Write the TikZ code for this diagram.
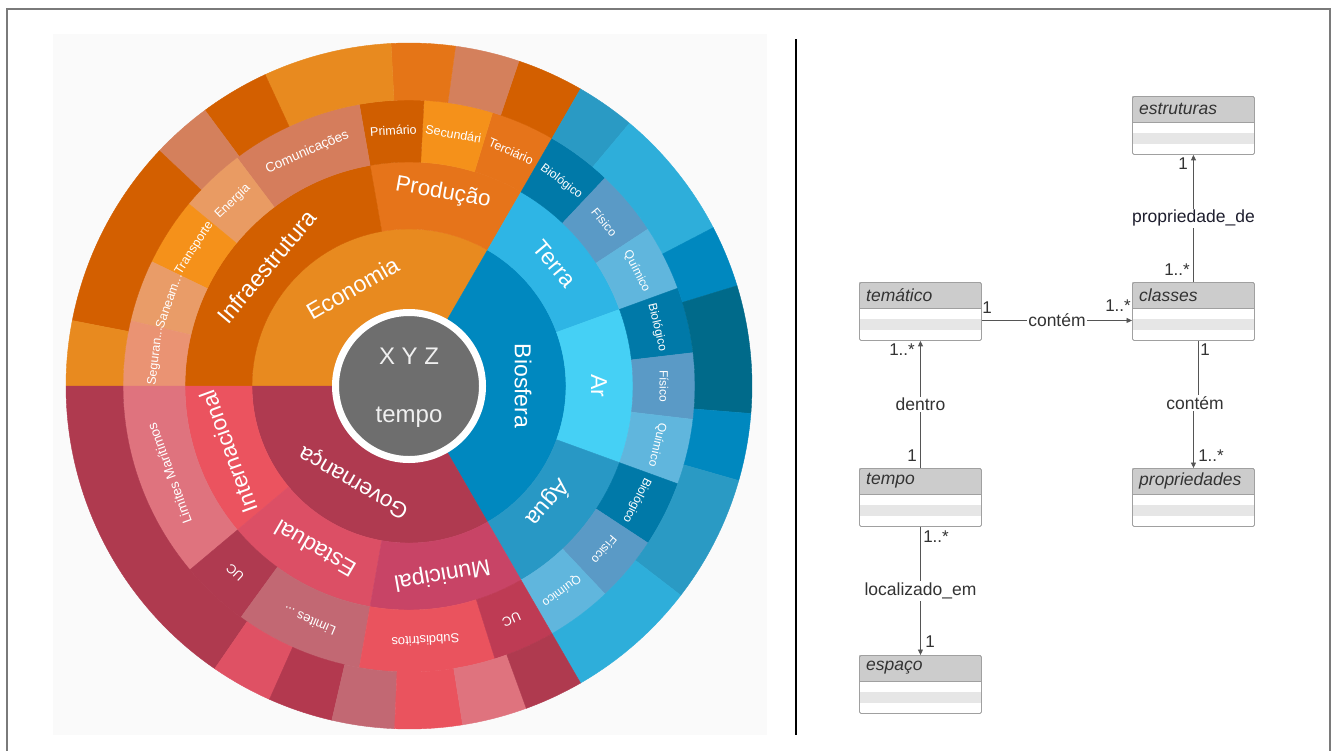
\documentclass[tikz,border=0pt]{standalone}
\usepackage{fontspec}
\setmainfont{Liberation Sans}
\usetikzlibrary{arrows.meta}

% panel and frame
\definecolor{panel}{HTML}{FAFAFA}
\definecolor{framegray}{HTML}{7A7A7A}
% economy (orange family)
\definecolor{eco}{HTML}{E88A1F}
\definecolor{infra}{HTML}{D25F00}
\definecolor{prod}{HTML}{E6741A}
\definecolor{prim}{HTML}{D05E00}
\definecolor{sec}{HTML}{F5911A}
\definecolor{terc}{HTML}{E6741A}
\definecolor{comu}{HTML}{D57D5C}
\definecolor{ener}{HTML}{E99B63}
\definecolor{transp}{HTML}{F5911A}
\definecolor{saneam}{HTML}{E99C68}
\definecolor{segur}{HTML}{EA9373}
\definecolor{oa}{HTML}{D35F00}
\definecolor{ob}{HTML}{D4805C}
\definecolor{oc}{HTML}{E57517}
% biosphere (blue family)
\definecolor{bios}{HTML}{0088BF}
\definecolor{terra}{HTML}{2EB5E5}
\definecolor{ar}{HTML}{45D0F5}
\definecolor{agua}{HTML}{2898C5}
\definecolor{bbio}{HTML}{0079A8}
\definecolor{bfis}{HTML}{5A9AC6}
\definecolor{bqui}{HTML}{60B6DD}
\definecolor{ba}{HTML}{2A9AC4}
\definecolor{bb}{HTML}{2EAEDA}
\definecolor{bc}{HTML}{0088BF}
\definecolor{bd}{HTML}{006A8A}
% governance (red family)
\definecolor{gov}{HTML}{AF3A50}
\definecolor{inter}{HTML}{EB535F}
\definecolor{est}{HTML}{DC4F65}
\definecolor{mun}{HTML}{C84466}
\definecolor{limm}{HTML}{DF737E}
\definecolor{ucr}{HTML}{AF3A50}
\definecolor{lim}{HTML}{C26873}
\definecolor{sub}{HTML}{EA535E}
\definecolor{uctwo}{HTML}{BE3B54}
\definecolor{ra}{HTML}{AF3A4F}
\definecolor{rb}{HTML}{DF5164}
\definecolor{rc}{HTML}{B3394F}
% centre
\definecolor{coregray}{HTML}{6E6E6E}
% class diagram
\definecolor{headgray}{HTML}{CCCCCC}
\definecolor{rowgray}{HTML}{E6E6E6}
\definecolor{boxgray}{HTML}{A0A0A0}
\definecolor{txtgray}{HTML}{333333}
\definecolor{linegray}{HTML}{555555}
\definecolor{navytxt}{HTML}{1E1E2E}

\tikzset{
  seglabel/.style={text=white, inner sep=0pt, anchor=center},
  umlbody/.style={draw=boxgray, line width=0.9pt, rounded corners=1.5pt,
    minimum width=122pt, minimum height=58pt, inner sep=0pt, anchor=north west},
  umltitle/.style={font=\fontsize{17.5}{18}\selectfont\itshape, text=txtgray,
    anchor=west, inner sep=0pt},
  assoc/.style={draw=linegray, line width=0.9pt},
  tipend/.style={-{Triangle[length=5.5pt,width=5pt]}},
  lbl/.style={font=\fontsize{17.5}{18}\selectfont, text=txtgray, inner sep=1.5pt, fill=white},
  mult/.style={font=\fontsize{17}{18}\selectfont, text=txtgray, inner sep=0pt},
}

% one UML class: name, left x, top y, title
\newcommand{\umlclass}[4]{%
  \fill[headgray] (#2,#3) rectangle ++(122,26);
  \fill[rowgray] (#2,#3+37) rectangle ++(122,10.5);
  \draw[boxgray, line width=0.9pt] (#2,#3+26) -- ++(122,0);
  \node[umlbody] (#1) at (#2,#3) {};
  \node[umltitle] (#1-title) at (#2+7,#3+13) {#4};
}

\begin{document}
\begin{tikzpicture}[x=1pt,y=-1pt]
\useasboundingbox (0,0) rectangle (1337,750);
\fill[white] (0,0) rectangle (1337,750);
\fill[panel] (53,34) rectangle (767,735);
\draw[framegray, line width=1.8pt] (7,9) rectangle (1330,770);
\draw[black, line width=2.3pt] (796,39) -- (796,735);

% ---------------- sunburst ----------------
\begin{scope}[shift={(409,386)}, y=1pt]
\foreach \ra/\rb/\aa/\ab/\col in {
  70/157/60/180/eco, 70/157/-60/60/bios, 70/157/180/300/gov,
  157/224/60/100/prod, 157/224/100/180/infra,
  157/224/20/60/terra, 157/224/-20/20/ar, 157/224/-60/-20/agua,
  157/224/180/220/inter, 157/224/220/260/est, 157/224/260/300/mun,
  224/286/60/73/terc, 224/286/73/87/sec, 224/286/87/100/prim,
  224/286/100/127/comu, 224/286/127/140.4/ener, 224/286/140.4/154.2/transp,
  224/286/154.2/166.8/saneam, 224/286/166.8/180/segur,
  224/286/46.7/60/bbio, 224/286/33.3/46.7/bfis, 224/286/20/33.3/bqui,
  224/286/6.7/20/bbio, 224/286/-6.7/6.7/bfis, 224/286/-20/-6.7/bqui,
  224/286/-33.3/-20/bbio, 224/286/-46.7/-33.3/bfis, 224/286/-60/-46.7/bqui,
  224/286/180/220/limm, 224/286/220/234/ucr, 224/286/234/260/lim,
  224/286/260/287.5/sub, 224/286/287.5/300/uctwo,
  286/343/60/71.3/oa, 286/343/71.3/82.2/ob, 286/343/82.2/93/oc,
  286/343/93/114.8/eco, 286/343/114.8/126.5/oa, 286/343/126.5/136.7/ob,
  286/343/136.7/169/oa, 286/343/169/180/eco,
  286/343/50/60/ba, 286/343/27.5/50/bb, 286/343/17/27.5/bc,
  286/343/-4.6/17/bd, 286/343/-16/-4.6/bc, 286/343/-37.6/-16/ba,
  286/343/-60/-37.6/bb,
  286/343/180/235.5/ra, 286/343/235.5/246/rb, 286/343/246/257/rc,
  286/343/257/267.6/lim, 286/343/267.6/279/sub, 286/343/279/290/limm,
  286/343/290/300/ra}
{
  \fill[fill=\col, draw=\col, line width=0.4pt]
    (\aa:\ra) arc[start angle=\aa, end angle=\ab, radius=\ra]
    -- (\ab:\rb) arc[start angle=\ab, end angle=\aa, radius=\rb] -- cycle;
}

% centre disc
\node[circle, fill=coregray, draw=white, line width=7pt,
      minimum size=147pt, inner sep=0pt] (core) at (0,0) {};
\node[text=white!94!black, font=\fontsize{24}{24}\selectfont] (xyz) at (0,30) {X Y Z};
\node[text=white!94!black, font=\fontsize{24}{24}\selectfont] (tmp) at (0,-31) {tempo};

% segment labels, tops facing outward
\foreach \ang/\rad/\sz/\nm/\txt in {
  120/113/23/lEco/Economia,
  0/114/23/lBio/Biosfera,
  240/110/22.5/lGov/Governança,
  80/196/22.5/lProd/Produção,
  140/186/23.5/lInfra/Infraestrutura,
  40/190/23/lTerra/Terra,
  0/190/23/lAr/Ar,
  -40/182/23/lAgua/Água,
  200/192/22.5/lInter/Internacional,
  240/188/23/lEst/Estadual,
  280/191/23/lMun/Municipal,
  113.5/255/13.5/lCom/Comunicações,
  93.5/256/12.5/lPrim/Primário,
  80/256/12.5/lSec/Secundári,
  66.5/256/12.5/lTerc/Terciário,
  133.7/255/12.5/lEner/Energia,
  147.3/255/12.5/lTrans/Transporte,
  160.5/255/12.5/lSan/Saneam.{}.{}.,
  173.4/255/12.5/lSeg/Seguran.{}.{}.,
  53.3/255/12/lTb/Biológico,
  40/255/12/lTf/Físico,
  26.7/255/12/lTq/Químico,
  13.3/255/12/lAb/Biológico,
  0/255/12/lAf/Físico,
  -13.3/255/12/lAq/Químico,
  -26.7/255/12/lWb/Biológico,
  -40/255/12/lWf/Físico,
  -53.3/255/12/lWq/Químico,
  200/255/13.5/lLimM/Limites Marítimos,
  227/255/13/lUc/UC,
  247/255/13/lLim/Limites .{}.{}.,
  273.7/255/13/lSub/Subdistritos,
  293.7/255/13/lUcb/UC}
{
  \node[seglabel, font=\fontsize{\sz}{\sz}\selectfont, rotate=\ang-90] (\nm) at (\ang:\rad) {\txt};
}
\end{scope}

% ---------------- class diagram ----------------
\umlclass{estr}{1132}{96}{estruturas}
\umlclass{tema}{859}{282}{temático}
\umlclass{clss}{1132}{282}{classes}
\umlclass{temp}{859}{468}{tempo}
\umlclass{prop}{1132}{468}{propriedades}
\umlclass{espa}{859}{655}{espaço}

% temático -> classes
\draw[assoc, tipend] ([yshift=-9pt]tema.east) -- node[lbl] (lc1) {contém} ([yshift=-9pt]clss.west);
\node[mult] (m1) at (987,308) {1};
\node[mult] (m2) at (1118,306) {1..*};

% classes -> estruturas
\draw[assoc, tipend] (clss.north) -- node[lbl, text=navytxt] (lpd) {propriedade\_de} (estr.south);
\node[mult] (m3) at (1183,164) {1};
\node[mult] (m4) at (1177,270) {1..*};

% classes -> propriedades
\node[lbl] (lc2) at (1195,403) {contém};
\draw[assoc] ([xshift=4.5pt]clss.south) -- ([xshift=4.5pt]clss.south |- lc2.north);
\draw[assoc, tipend] (prop.north |- lc2.south) -- (prop.north);
\node[mult] (m5) at (1205,350) {1};
\node[mult] (m6) at (1211,456) {1..*};

% tempo -> temático
\draw[assoc, tipend] (temp.north) -- node[lbl] (ldn) {dentro} (tema.south);
\node[mult] (m7) at (902,350) {1..*};
\node[mult] (m8) at (912,456) {1};

% tempo -> espaço
\draw[assoc, tipend] (temp.south) -- node[lbl] (lloc) {localizado\_em} (espa.north);
\node[mult] (m9) at (936,537) {1..*};
\node[mult] (m10) at (930,642) {1};

\end{tikzpicture}
\end{document}
